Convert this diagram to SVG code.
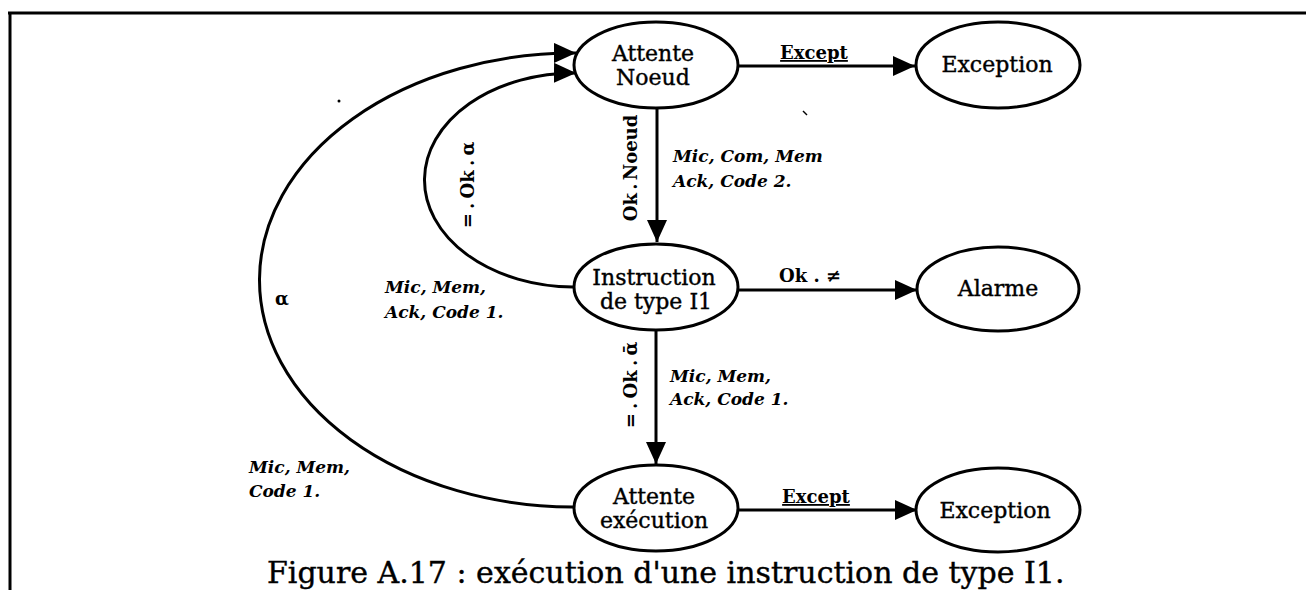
<svg xmlns="http://www.w3.org/2000/svg" width="1306" height="590" viewBox="0 0 1306 590">
<defs>
<style>
.node{fill:#fff;stroke:#000;stroke-width:3}
.nt{font-family:"DejaVu Serif","Liberation Serif",serif;font-size:22px;fill:#000;stroke:#000;stroke-width:0.4;text-anchor:middle}
.edge{fill:none;stroke:#000;stroke-width:3}
.lb{font-family:"DejaVu Serif","Liberation Serif",serif;font-size:18px;font-weight:bold;fill:#000}
.li{font-family:"DejaVu Serif","Liberation Serif",serif;font-size:17px;font-weight:bold;font-style:italic;fill:#000}
.cap{font-family:"DejaVu Serif","Liberation Serif",serif;font-size:30px;fill:#000;stroke:#000;stroke-width:0.4}
</style>
<marker id="ah" markerUnits="userSpaceOnUse" markerWidth="24" markerHeight="22" refX="22" refY="10" orient="auto">
<path d="M0,0 L22,10 L0,20 Z" fill="#000"/>
</marker>
</defs>
<rect width="1306" height="590" fill="#fff"/>
<g id="frame" stroke="#000" stroke-width="3" fill="none">
<line x1="8" y1="13" x2="1306" y2="13"/>
<line x1="10" y1="12" x2="10" y2="590"/>
</g>
<g id="connectors">
<line class="edge" x1="738" y1="66" x2="915" y2="66" marker-end="url(#ah)"/>
<line class="edge" x1="657" y1="108" x2="657" y2="242" marker-end="url(#ah)"/>
<line class="edge" x1="738" y1="290" x2="917" y2="290" marker-end="url(#ah)"/>
<line class="edge" x1="656" y1="330" x2="656" y2="464" marker-end="url(#ah)"/>
<line class="edge" x1="738" y1="510" x2="917" y2="510" marker-end="url(#ah)"/>
<path class="edge" d="M573,287 A150,107 0 0 1 576,73" marker-end="url(#ah)"/>
<path class="edge" d="M573,507 A315,227 0 0 1 576,53" marker-end="url(#ah)"/>
<text class="lb" x="814" y="59" text-anchor="middle" text-decoration="underline">Except</text>
<text class="lb" x="816" y="503" text-anchor="middle" text-decoration="underline">Except</text>
<text class="lb" x="810" y="282" text-anchor="middle">Ok . ≠</text>
<text class="lb" transform="translate(637,168) rotate(-90)" text-anchor="middle" word-spacing="-3">Ok . Noeud</text>
<text class="lb" transform="translate(474,185) rotate(-90)" text-anchor="middle" word-spacing="-2">= . Ok . α</text>
<text class="lb" transform="translate(637,385) rotate(-90)" text-anchor="middle" word-spacing="-2">= . Ok . ᾱ</text>
<text class="li" x="673" y="162">Mic, Com, Mem</text>
<text class="li" x="673" y="187">Ack, Code 2.</text>
<text class="li" x="385" y="293">Mic, Mem,</text>
<text class="li" x="385" y="318">Ack, Code 1.</text>
<text class="li" x="670" y="382">Mic, Mem,</text>
<text class="li" x="670" y="405">Ack, Code 1.</text>
<text class="li" x="249" y="473">Mic, Mem,</text>
<text class="li" x="249" y="497">Code 1.</text>
<text class="lb" x="275" y="305" font-size="22">α</text>
</g>
<g id="n-attente-noeud">
<ellipse class="node" cx="656" cy="65" rx="82" ry="43"/>
<text class="nt" x="653" y="61">Attente</text>
<text class="nt" x="653" y="85">Noeud</text>
</g>
<g id="n-exception-1">
<ellipse class="node" cx="998" cy="65" rx="82" ry="43"/>
<text class="nt" x="997" y="72">Exception</text>
</g>
<g id="n-instruction">
<ellipse class="node" cx="656" cy="287" rx="82" ry="43"/>
<text class="nt" x="654" y="285">Instruction</text>
<text class="nt" x="656" y="309">de type I1</text>
</g>
<g id="n-alarme">
<ellipse class="node" cx="998" cy="289" rx="81" ry="42"/>
<text class="nt" x="998" y="296">Alarme</text>
</g>
<g id="n-attente-execution">
<ellipse class="node" cx="656" cy="508" rx="82" ry="43"/>
<text class="nt" x="654" y="504">Attente</text>
<text class="nt" x="654" y="528">exécution</text>
</g>
<g id="n-exception-2">
<ellipse class="node" cx="998" cy="510" rx="82" ry="42"/>
<text class="nt" x="995" y="518">Exception</text>
</g>
<g id="marks" fill="#000">
<circle cx="339" cy="101" r="1.5"/>
<path d="M803,111 L807,115" stroke="#000" stroke-width="1.5"/>
</g>
<text class="cap" x="267" y="583">Figure A.17 : exécution d'une instruction de type I1.</text>
</svg>
